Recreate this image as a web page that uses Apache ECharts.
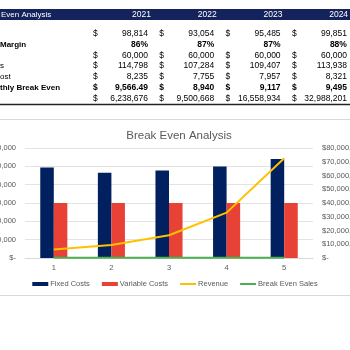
<!DOCTYPE html>
<html><head><meta charset="utf-8">
<script src="https://cdn.jsdelivr.net/npm/echarts@6/dist/echarts.min.js"></script>
<style>html,body{margin:0;padding:0;background:#fff}#c{width:350px;height:350px}</style>
</head><body><div id="c"></div>
<script>
// ---- table data ----
const tableTitle = 'Even Analysis';
const years = ['2021', '2022', '2023', '2024'];
const rowLabels = ['', 'Margin', '', 's', 'ost', 'thly Break Even', ''];
const rowSales = [98814, 93054, 95485, 99851];
const rowMargin = ['86%', '87%', '87%', '88%'];
const rowFixed = [60000, 60000, 60000, 60000];
const rowVariable = [114798, 107284, 109407, 113938];
const rowCost = [8235, 7755, 7957, 8321];
const rowMonthlyBE = ['9,566.49', '8,940', '9,117', '9,495'];
const rowCumulative = [6238676, 9500668, 16558934, 32988201];

// ---- chart data ----
const chartTitle = 'Break Even Analysis';
const categories = ['1', '2', '3', '4', '5'];
const fixedCosts = [98814, 93054, 95485, 99851, 108000];
const variableCosts = [60000, 60000, 60000, 60000, 60000];
const revenue = [6238676, 9500668, 16558934, 32988201, 72500000];
const breakEvenSales = [114798, 107284, 109407, 113938, 118000];
const leftAxis = { min: 0, max: 120000, interval: 20000 };
const rightAxis = { min: 0, max: 80000000, interval: 10000000 };

const fmt = v => v.toLocaleString('en-US');
const money = v => v === 0 ? '$-' : '$' + fmt(v);

// ---- table graphics ----
const FONT = '"Liberation Sans", Arial, sans-serif';
const g = [];
g.push({ type: 'rect', shape: { x: 0, y: 9, width: 350, height: 11 }, style: { fill: '#14235c' } });
g.push({ type: 'text', x: 1, y: 14.5, style: { text: tableTitle, fill: '#fff', font: '8px ' + FONT, textAlign: 'left', align: 'left', textVerticalAlign: 'middle', verticalAlign: 'middle' } });
const colStep = 66.3;
years.forEach((y, k) => {
  g.push({ type: 'text', x: 151 + 65.7 * k, y: 14.5, style: { text: y, fill: '#fff', font: '8.5px ' + FONT, textAlign: 'right', align: 'right', textVerticalAlign: 'middle', verticalAlign: 'middle' } });
});
const rows = [
  { vals: rowSales.map(fmt), dollar: true, bold: false },
  { vals: rowMargin, dollar: false, bold: true },
  { vals: rowFixed.map(fmt), dollar: true, bold: false },
  { vals: rowVariable.map(fmt), dollar: true, bold: false },
  { vals: rowCost.map(fmt), dollar: true, bold: false },
  { vals: rowMonthlyBE, dollar: true, bold: true },
  { vals: rowCumulative.map(fmt), dollar: true, bold: false }
];
rows.forEach((r, i) => {
  const yy = 34 + 10.7 * i;
  const f = (r.bold ? 'bold ' : '') + '8.5px ' + FONT;
  if (rowLabels[i]) g.push({ type: 'text', x: 0, y: yy, style: { text: rowLabels[i], fill: '#000', font: (r.bold ? 'bold ' : '') + '8px ' + FONT, textAlign: 'left', align: 'left', textVerticalAlign: 'middle', verticalAlign: 'middle' } });
  r.vals.forEach((v, k) => {
    if (r.dollar) g.push({ type: 'text', x: 93 + colStep * k, y: yy, style: { text: '$', fill: '#000', font: f, textAlign: 'left', align: 'left', textVerticalAlign: 'middle', verticalAlign: 'middle' } });
    g.push({ type: 'text', x: 148 + colStep * k, y: yy, style: { text: v, fill: '#000', font: f, textAlign: 'right', align: 'right', textVerticalAlign: 'middle', verticalAlign: 'middle' } });
  });
});
g.push({ type: 'line', shape: { x1: 0, y1: 104.5, x2: 350, y2: 104.5 }, style: { stroke: '#222', lineWidth: 1.5 } });
g.push({ type: 'line', shape: { x1: 0, y1: 119.5, x2: 350, y2: 119.5 }, style: { stroke: '#d9d9d9', lineWidth: 1 } });
g.push({ type: 'line', shape: { x1: 0, y1: 295.5, x2: 350, y2: 295.5 }, style: { stroke: '#d9d9d9', lineWidth: 1 } });

const chart = echarts.init(document.getElementById('c'), null, { renderer: 'canvas' });
const textColor = '#595959';
chart.setOption({
  animation: false,
  backgroundColor: '#fff',
  textStyle: { fontFamily: FONT },
  title: { text: chartTitle, left: 174, top: 125, textAlign: 'center', textStyle: { fontSize: 11.5, fontWeight: 'normal', color: textColor, fontFamily: FONT } },
  graphic: g,
  grid: { left: 25, right: 37, top: 148, bottom: 92, containLabel: false, outerBoundsMode: 'none' },
  legend: {
    bottom: 57, left: 'center', itemWidth: 16, itemHeight: 4, itemGap: 12,
    textStyle: { fontSize: 7.5, color: textColor, padding: [0, 0, 0, -3] },
    data: [
      { name: 'Fixed Costs', icon: 'rect' },
      { name: 'Variable Costs', icon: 'rect' },
      { name: 'Revenue', icon: 'path://M0,0L16,0L16,2L0,2Z' },
      { name: 'Break Even Sales', icon: 'path://M0,0L16,0L16,2L0,2Z' }
    ]
  },
  xAxis: {
    type: 'category', data: categories,
    axisLine: { lineStyle: { color: '#d9d9d9' } }, axisTick: { show: false },
    axisLabel: { color: textColor, fontSize: 7.5, margin: 6 }
  },
  yAxis: [
    { type: 'value', min: leftAxis.min, max: leftAxis.max, interval: leftAxis.interval,
      axisLabel: { formatter: money, color: textColor, fontSize: 7.5, margin: 9 },
      splitLine: { lineStyle: { color: '#e3e3e3' } }, axisLine: { show: false }, axisTick: { show: false } },
    { type: 'value', min: rightAxis.min, max: rightAxis.max, interval: rightAxis.interval, position: 'right',
      axisLabel: { formatter: money, color: textColor, fontSize: 7.5, margin: 9 },
      splitLine: { show: false }, axisLine: { show: false }, axisTick: { show: false } }
  ],
  series: [
    { name: 'Fixed Costs', type: 'bar', data: fixedCosts, yAxisIndex: 0, barGap: '0%', barCategoryGap: '53%', itemStyle: { color: '#002060' } },
    { name: 'Variable Costs', type: 'bar', data: variableCosts, yAxisIndex: 0, itemStyle: { color: '#e84236' } },
    { name: 'Revenue', type: 'line', data: revenue, yAxisIndex: 1, showSymbol: false, symbol: 'none', lineStyle: { color: '#ffc000', width: 2 }, itemStyle: { color: '#ffc000' } },
    { name: 'Break Even Sales', type: 'line', data: breakEvenSales, yAxisIndex: 1, showSymbol: false, symbol: 'none', lineStyle: { color: '#4caf50', width: 2 }, itemStyle: { color: '#4caf50' } }
  ]
});
</script></body></html>
